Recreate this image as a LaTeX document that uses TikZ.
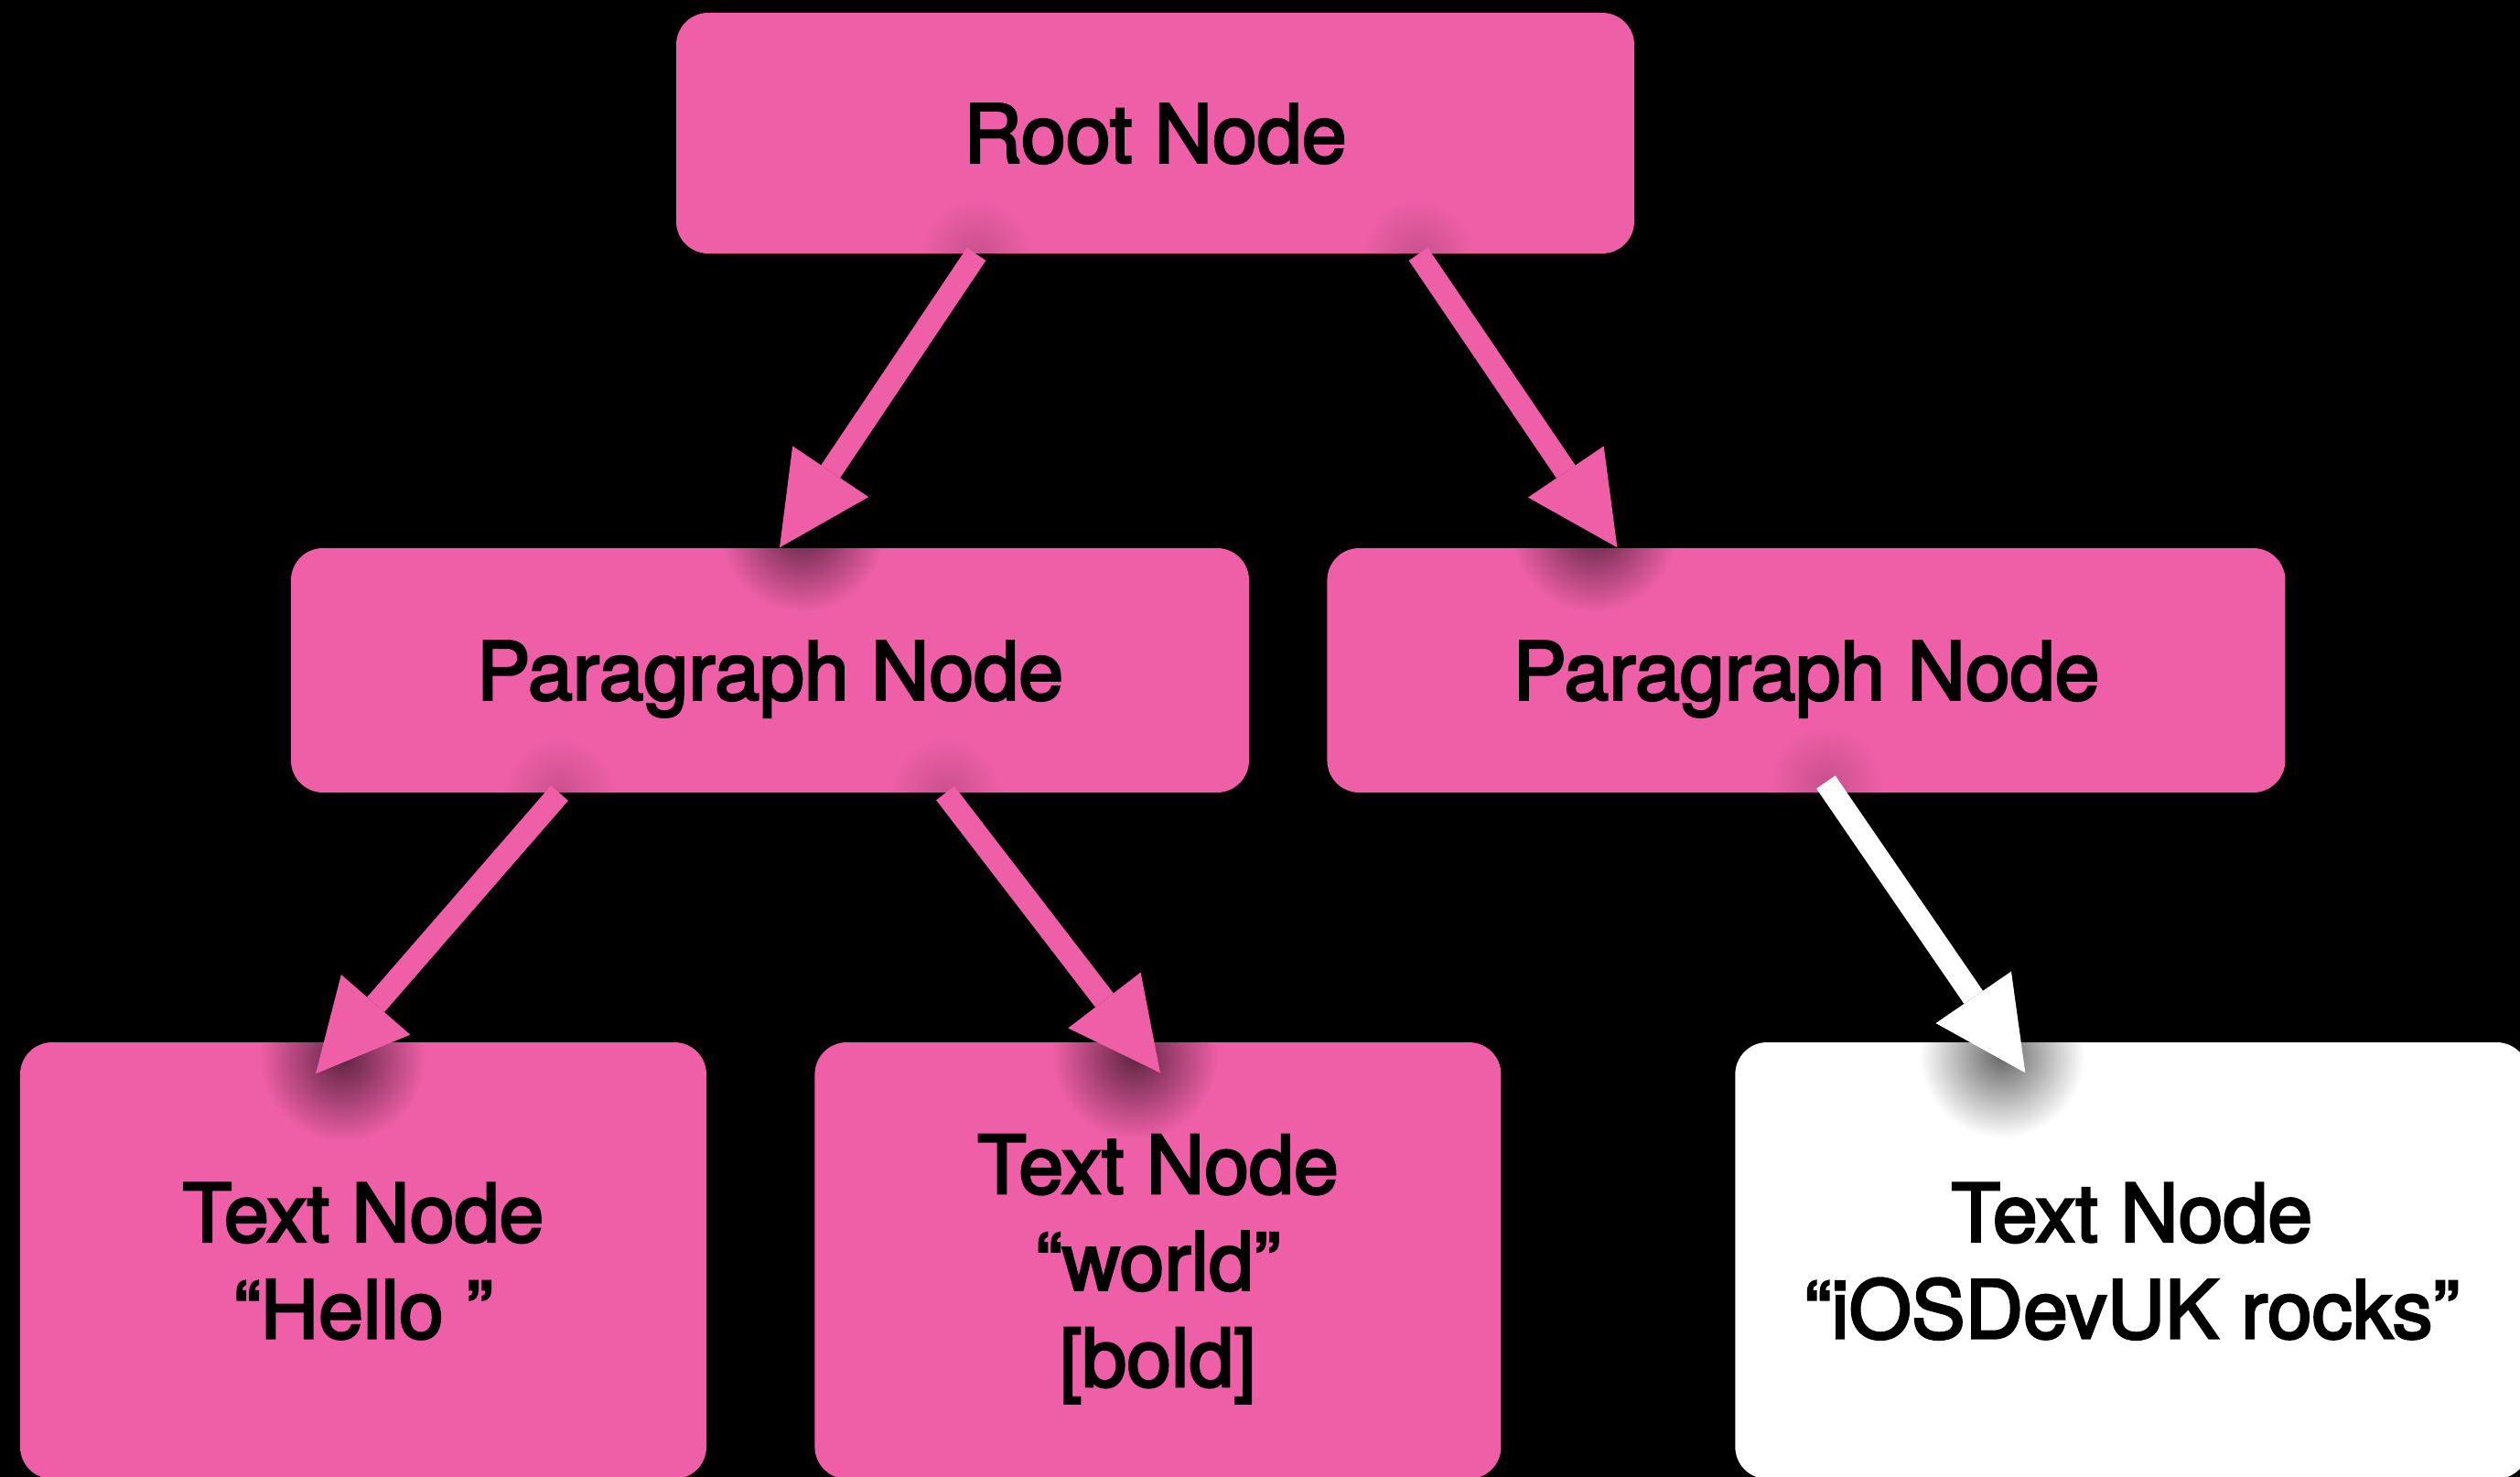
\documentclass[tikz,border=0pt]{standalone}
\usepackage{fontspec}
\setmainfont{TeX Gyre Heros}[RawFeature={embolden=3}]
\usepackage{tikz}
\usetikzlibrary{arrows.meta,calc,positioning,fadings}
\definecolor{docpink}{RGB}{238,95,167}
\tikzfading[name=softspot, inner color=transparent!40, outer color=transparent!100]
\tikzset{
  box/.style={rectangle, rounded corners=0.35cm, fill=docpink, inner sep=0pt,
    align=center, text depth=0pt, font=\fontsize{25}{30}\selectfont},
  rootbox/.style={box, minimum width=10.47cm, minimum height=2.63cm},
  parabox/.style={box, minimum width=10.47cm, minimum height=2.67cm},
  leafbox/.style={box, minimum width=7.5cm, minimum height=4.77cm},
  link/.style={draw=docpink, line width=0.25cm,
    -{Triangle[length=1cm, width=1cm, line width=0pt]}},
  tipshade/.style={fill=black, path fading=softspot}
}

\begin{document}
\begin{tikzpicture}
  \useasboundingbox (0,0) rectangle (27.54,-16.14);
  \clip (0,0) rectangle (27.54,-16.14);
  \fill[black] (0,0) rectangle (27.54,-16.14);
  % Tree of nodes
  \node[rootbox] (root) at (12.625,-1.455) {Root Node};
  \node[parabox] (paraL) at (8.415,-7.325) {Paragraph Node};
  \node[parabox, right=0.84cm of paraL] (paraR) {Paragraph Node};
  \node[leafbox] (textA) at (3.97,-13.775) {Text Node\\“Hello ”};
  \node[leafbox, right=1.17cm of textA] (textB) {Text Node\\“world”\\{[bold]}};
  \node[leafbox, fill=white, minimum width=8.67cm, right=2.545cm of textB] (textC)
    {Text Node\\“iOSDevUK rocks”};
  % Arrow ends
  \coordinate (root-l) at ([xshift=-1.955cm]root.south);
  \coordinate (root-r) at ([xshift=2.875cm]root.south);
  \coordinate (paraL-in) at ([xshift=0.105cm]paraL.north);
  \coordinate (paraR-in) at ([xshift=-2.065cm]paraR.north);
  \coordinate (paraL-l) at ([xshift=-2.3cm]paraL.south);
  \coordinate (paraL-r) at ([xshift=1.915cm]paraL.south);
  \coordinate (paraR-out) at ([xshift=0.215cm, yshift=0.12cm]paraR.south);
  \coordinate (textA-in) at ([xshift=-0.52cm, yshift=-0.35cm]textA.north);
  \coordinate (textB-in) at ([xshift=0.025cm, yshift=-0.34cm]textB.north);
  \coordinate (textC-in) at ([xshift=-1.165cm, yshift=-0.34cm]textC.north);
  % Soft shadows under the arrow ends
  \foreach \s/\t in {root-l/paraL-in, root-r/paraR-in, paraL-l/textA-in,
                     paraL-r/textB-in, paraR-out/textC-in}{
    \fill[tipshade] ($(\t)!0.45cm!(\s)+(0,-0.18)$) circle (0.9cm);
    \fill[tipshade, opacity=0.25] (\s) circle (0.6cm);
  }
  % Links
  \draw[link] (root-l) -- (paraL-in);
  \draw[link] (root-r) -- (paraR-in);
  \draw[link] (paraL-l) -- (textA-in);
  \draw[link] (paraL-r) -- (textB-in);
  \draw[link, draw=white] (paraR-out) -- (textC-in);
\end{tikzpicture}
\end{document}
